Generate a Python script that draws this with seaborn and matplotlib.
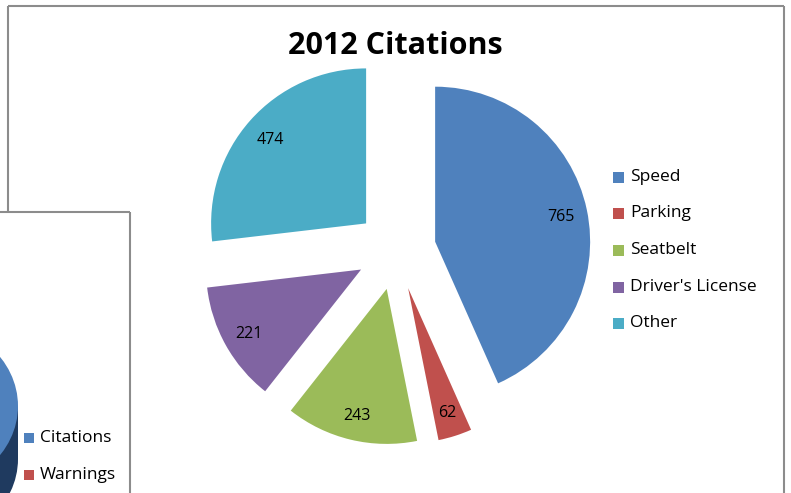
import matplotlib
matplotlib.use("Agg")
import matplotlib.pyplot as plt
from matplotlib.patches import Rectangle, Ellipse
import seaborn as sns

# Citation counts by category
categories = ["Speed", "Parking", "Seatbelt", "Driver's License", "Other"]
citations = [765, 62, 243, 221, 474]
chart_title = "2012 Citations"
slice_colors = ["#4F81BD", "#C0504D", "#9BBB59", "#8064A2", "#4BACC6"]

# Legend entries of the neighbouring summary chart
summary_labels = ["Citations", "Warnings"]
summary_colors = ["#4F81BD", "#C0504D"]

W, H = 791, 493
sns.set_theme(style="white")
plt.rcParams["font.family"] = ["Open Sans", "DejaVu Sans"]

fig = plt.figure(figsize=(W / 100, H / 100), dpi=100)
ax = fig.add_axes([0, 0, 1, 1])


def py(y):
    """Convert a top-down pixel row to the y-up data coordinate."""
    return H - y


palette = sns.color_palette(slice_colors)
total = sum(citations)
radius = 155
wedges, texts, autotexts = ax.pie(
    citations,
    colors=palette,
    startangle=90,
    counterclock=False,
    center=(396, py(250)),
    radius=radius,
    explode=[40] * len(citations),
    autopct=lambda p: f"{round(p * total / 100)}",
    pctdistance=0.83,
    textprops=dict(fontsize=11.5, color="black"),
    wedgeprops=dict(linewidth=0),
)
for t in autotexts:
    t.set_verticalalignment("center_baseline")
ax.set_xlim(0, W)
ax.set_ylim(0, H)
ax.set_aspect("auto")
ax.axis("off")

frame_col = "#8C8C8C"
lw = 1.5
# main chart border
ax.plot([8, 8], [py(212), py(6)], color=frame_col, lw=lw, solid_capstyle="butt")
ax.plot([8, 784], [py(6), py(6)], color=frame_col, lw=lw, solid_capstyle="butt")
ax.plot([784, 784], [py(6), py(493)], color=frame_col, lw=lw, solid_capstyle="butt")

ax.text(395, py(46), chart_title, ha="center", va="center",
        fontsize=22, fontweight="bold", color="black")

# main legend
leg_y = [177, 213, 250, 287, 323]
for lab, col, yy in zip(categories, palette, leg_y):
    ax.add_patch(Rectangle((613, py(yy) - 5.5), 11, 11, facecolor=col, edgecolor="none"))
    ax.text(630, py(yy), lab, ha="left", va="center", fontsize=12.5, color="black")

# neighbouring summary chart panel overlapping the lower-left corner
panel = Rectangle((0, 0), 130, py(212), facecolor="white", edgecolor="none", zorder=5)
ax.add_patch(panel)
ax.plot([0, 130], [py(212), py(212)], color=frame_col, lw=lw, zorder=6, solid_capstyle="butt")
ax.plot([130, 130], [py(212), 0], color=frame_col, lw=lw, zorder=6, solid_capstyle="butt")

clip = Rectangle((0, 0), 129, py(213), transform=ax.transData)
side = [
    Ellipse((-82, py(459)), 200, 172, facecolor="#1F3A5F", edgecolor="none", zorder=6),
    Rectangle((-182, py(459)), 200, 53, facecolor="#1F3A5F", edgecolor="none", zorder=6),
    Ellipse((-82, py(406)), 200, 172, facecolor="#4F81BD", edgecolor="none", zorder=7),
]
for p in side:
    ax.add_patch(p)
    p.set_clip_path(clip)

for lab, col, yy in zip(summary_labels, summary_colors, [438, 475]):
    ax.add_patch(Rectangle((24, py(yy) - 5), 10, 10, facecolor=col, edgecolor="none", zorder=8))
    ax.text(40, py(yy), lab, ha="left", va="center", fontsize=12.5, color="black", zorder=8)

fig.savefig("out.png", dpi=100, facecolor="white")
